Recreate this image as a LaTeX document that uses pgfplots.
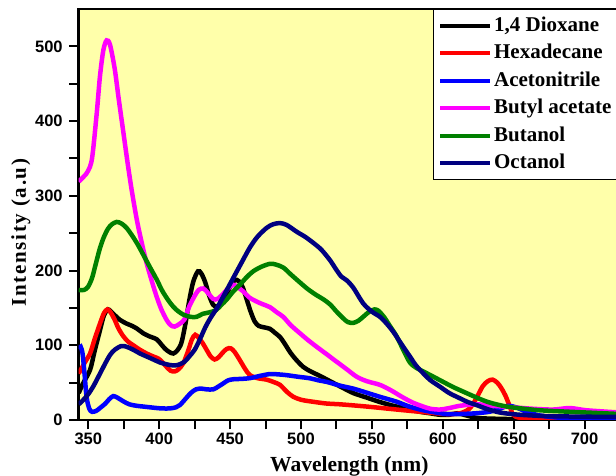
\documentclass[border=0pt]{standalone}
\usepackage{fontspec}
\setmainfont{Liberation Serif}
\newfontfamily\lsans{Liberation Sans}
\newfontfamily\lserifsp{Liberation Serif}[LetterSpace=8]
\usepackage{pgfplots}
\pgfplotsset{compat=1.18}

\definecolor{bgyellow}{RGB}{255,255,170}
\definecolor{cgreen}{RGB}{0,128,0}
\definecolor{cnavy}{RGB}{0,0,128}
\definecolor{cmag}{RGB}{255,0,255}
\definecolor{cred}{RGB}{255,0,0}
\definecolor{cblue}{RGB}{0,0,255}

\begin{document}
\begin{tikzpicture}
\begin{axis}[
  at={(0,0)}, anchor=south west,
  scale only axis,
  width=541.3pt, height=411pt,
  xmin=343.2, xmax=725,
  ymin=0, ymax=550,
  axis background/.style={fill=bgyellow},
  axis line style={line width=2.6pt},
  xtick={350,400,...,700},
  minor xtick={375,425,...,675},
  ytick={0,100,...,500},
  minor ytick={50,150,...,450},
  xtick pos=bottom, ytick pos=left,
  tick align=outside,
  major tick length=9.5pt, minor tick length=9.5pt,
  every tick/.style={line width=2pt, black},
  /pgf/number format/assume math mode=true,
  tick label style={font=\lsans\bfseries\fontsize{16.5}{18}\selectfont},
  yticklabel style={xshift=-3pt},
  every axis x label/.style={at={(axis description cs:0.5,-0.1258)}, anchor=base},
  every axis y label/.style={at={(axis description cs:-0.0974,0.456)}, anchor=base, rotate=90},
  xlabel={\bfseries\fontsize{21.5}{23}\selectfont Wavelength (nm)},
  ylabel={\lserifsp\bfseries\fontsize{21}{22}\selectfont Intensity (a.u)},
  legend style={at={(axis description cs:0.654,1)}, anchor=north west,
    draw=black, line width=0.8pt, fill=white,
    inner xsep=5pt, inner ysep=5pt, row sep=4.5pt,
    font=\bfseries\fontsize{21}{22}\selectfont,
    nodes={text height=15pt, text depth=4pt, inner sep=2pt}},
  legend cell align=left,
  legend image code/.code={\draw[#1, line width=4pt] (0pt,0pt) -- (50pt,0pt);},
  every axis plot/.append style={line width=4.5pt, smooth, tension=0.5},
]
% 1,4 Dioxane
\addplot[black] coordinates {
(343.2,36) (346.0,48) (351.2,67) (354.4,92) (358.2,120) (361.0,140) (363.9,148)
(367.6,142) (372.3,134) (377.0,129) (380.8,126) (384.5,122) (388.8,116)
(393.0,112) (398.2,108) (401.5,101) (404.3,95) (407.1,91) (409.9,89)
(412.7,93) (415.6,103) (418.4,128) (421.2,160) (424.0,185) (427.3,199)
(429.7,196) (432.5,184) (435.3,166) (438.1,154) (441.0,152) (445.2,160)
(449.4,176) (453.2,187) (456.0,186) (458.8,178) (461.6,162) (464.5,145)
(467.3,132) (470.1,126) (473.9,124) (478.1,122) (481.4,117) (485.2,111)
(488.9,101) (492.2,91) (496.4,81) (501.6,71) (506.8,65) (513.4,59)
(520.4,52) (527.5,45) (536.9,36) (546.3,30) (555.7,24) (565.1,19) (574.5,15)
(583.9,11) (590.9,9) (598.0,7) (604.6,7) (610.2,9) (616.8,6) (623.4,3)
(630.9,2) (659.1,1) (725,1)};
\addlegendentry{1,4 Dioxane}
% Hexadecane
\addplot[cred] coordinates {
(343.2,62) (346.9,75) (351.2,89) (354.4,108) (358.2,129) (361.0,143)
(363.4,148) (365.7,144) (368.6,134) (371.4,122) (374.7,112) (378.0,105)
(381.7,100) (386.4,94) (391.1,89) (395.8,85) (399.6,82) (402.4,77)
(405.2,71) (408.0,66) (410.9,65) (413.7,68) (417.0,76) (420.3,92)
(423.1,108) (425.4,114) (427.8,110) (430.6,103) (433.4,94) (436.3,85)
(439.1,81) (441.9,84) (444.7,90) (447.5,95) (450.4,96) (453.2,91)
(456.9,80) (460.7,68) (464.0,60) (469.2,56) (475.7,54) (480.4,51)
(485.2,47) (489.9,38) (494.6,31) (500.2,27) (506.3,25) (518.1,22)
(527.5,21) (546.3,18) (567.4,14) (583.9,11) (602.7,8) (612.1,9) (618.7,15)
(623.4,28) (628.1,45) (631.8,52) (635.1,54) (638.4,50) (641.2,43)
(644.1,33) (646.9,20) (649.7,7) (654.4,3) (668.5,1) (725,1)};
\addlegendentry{Hexadecane}
% Acetonitrile
\addplot[cblue] coordinates {
(343.2,95) (344.6,98) (346.0,88) (347.4,60) (348.8,30) (350.7,15) (352.6,11)
(355.4,12) (358.2,16) (362.0,22) (364.8,28) (367.6,32) (370.4,30)
(374.7,25) (378.9,21) (384.1,19) (391.1,17.5) (395.8,16.5) (401.5,15.5)
(407.6,15.5) (411.8,17) (414.6,20) (418.4,28) (422.2,36) (425.9,41)
(429.7,42) (433.4,41) (438.1,41) (441.9,45) (445.2,49) (448.5,53)
(452.2,54.5) (457.9,55) (464.0,56) (471.0,59) (478.1,61.5) (484.2,61)
(489.9,60) (497.4,58) (506.3,55.8) (512.4,53) (518.1,51) (527.5,46)
(536.9,42) (543.9,38) (555.7,31) (567.4,24.5) (576.4,18) (586.2,13)
(595.2,10) (602.7,8) (612.1,8) (623.4,9) (632.8,11) (640.3,15) (645.9,19)
(651.6,17) (659.1,11) (668.5,6) (682.6,3) (696.7,2) (725,2)};
\addlegendentry{Acetonitrile}
% Butyl acetate
\addplot[cmag] coordinates {
(343.2,319) (346.9,326) (349.7,333) (352.6,350) (355.9,410) (358.2,460)
(360.6,495) (362.9,508) (365.3,502) (368.6,470) (371.4,430) (374.7,385)
(378.0,340) (380.8,305) (384.5,265) (388.3,232) (391.1,210) (394.9,185)
(398.2,165) (401.5,148) (405.2,134) (408.0,127) (410.9,125) (414.6,129)
(417.9,135) (421.2,152) (425.0,166) (427.8,174) (431.1,176) (434.4,170)
(438.1,162) (441.0,162) (445.2,169) (448.5,176) (452.2,181) (455.1,178)
(459.3,172) (463.5,164) (468.7,158.5) (472.9,155) (478.1,151) (482.3,145)
(487.5,138) (492.7,127) (499.3,116) (504.9,107) (511.0,98) (518.1,88)
(523.7,80) (532.2,68) (539.2,58) (546.3,52) (555.7,47) (563.2,40)
(572.1,30) (579.2,23) (586.2,18) (591.4,15) (598.0,14) (604.6,16)
(612.1,19) (623.8,21) (635.6,19) (649.7,17) (663.8,15) (677.9,14)
(689.7,16) (701.4,13) (725,10)};
\addlegendentry{Butyl acetate}
% Butanol
\addplot[cgreen] coordinates {
(343.2,174) (346.9,174) (349.7,178) (352.6,190) (355.4,210) (358.2,230)
(361.0,245) (363.9,256) (366.7,262) (370.0,265) (373.3,263) (377.0,257)
(380.8,247) (384.5,236) (388.8,221) (393.0,206) (398.2,188) (402.4,172)
(407.6,157) (411.8,148) (417.0,141) (422.2,138) (426.4,138) (430.6,142)
(435.3,144) (440.0,147) (443.8,154) (447.5,161) (452.2,172) (456.9,181)
(461.6,191) (466.3,199) (472.0,205) (478.1,209) (482.3,208) (487.5,204)
(492.7,195) (499.3,184) (504.9,175) (511.0,167) (516.2,161) (520.9,154)
(524.6,146) (529.8,136) (533.1,131) (536.9,130) (540.6,133) (544.4,139)
(548.2,145) (551.9,148) (554.7,146) (558.5,138) (562.3,127) (567.4,112)
(572.6,92) (576.8,77) (581.1,70) (586.2,65) (593.3,58) (600.3,51)
(607.4,44) (614.4,38) (621.5,32) (629.0,26) (635.6,22) (645.0,18)
(654.4,15.7) (668.5,13) (689.7,11) (725,8)};
\addlegendentry{Butanol}
% Octanol
\addplot[cnavy] coordinates {
(343.2,21) (346.0,26) (349.7,34) (353.5,45) (358.2,62) (362.0,76) (365.3,87)
(368.6,94) (373.3,99) (377.0,98) (381.7,94) (386.4,89) (391.1,85)
(395.8,81) (400.5,77) (405.2,74.5) (409.9,73) (413.7,74) (417.9,78)
(421.2,85) (425.0,94) (428.7,108) (432.5,124) (436.3,137) (440.5,149)
(445.7,167) (452.2,190) (457.9,210) (464.0,231) (469.2,245) (475.7,257)
(480.4,262) (485.2,263.5) (489.9,261) (496.9,252) (503.0,245) (508.7,237)
(514.3,228) (520.4,214) (524.6,202) (528.4,192) (532.2,187) (536.9,177)
(543.9,156) (550.0,145) (555.7,138) (560.4,129) (565.1,118) (570.7,102)
(576.8,85) (581.1,73) (586.2,62.5) (591.4,53) (598.0,44.6) (604.6,36)
(612.1,29) (617.7,24) (623.8,20) (630.9,15) (640.3,10) (654.4,7)
(677.9,5) (725,4)};
\addlegendentry{Octanol}
\end{axis}
\pgfresetboundingbox
\path[use as bounding box] (-78.7pt,-56pt) rectangle (537.3pt,420pt);
\end{tikzpicture}
\end{document}
